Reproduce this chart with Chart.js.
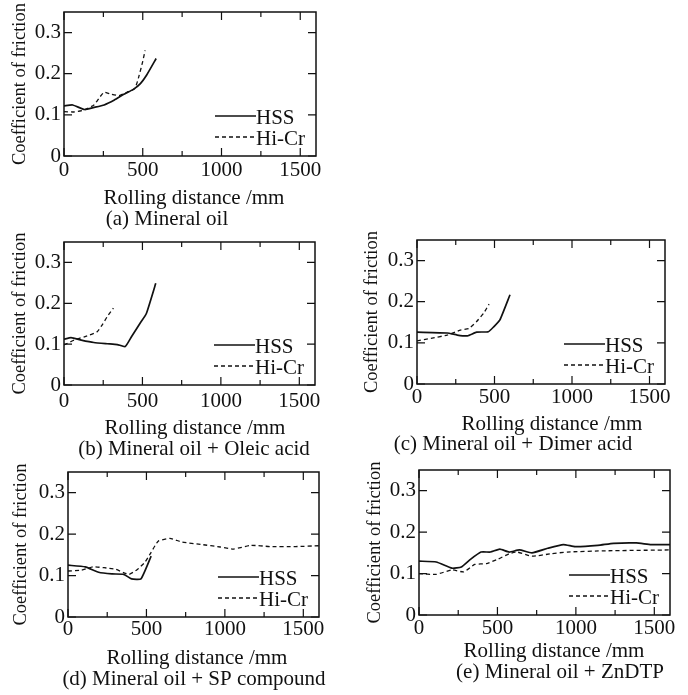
<!DOCTYPE html>
<html>
<head>
<meta charset="utf-8">
<script src="https://cdn.jsdelivr.net/npm/chart.js@4.4.0/dist/chart.umd.min.js"></script>
<style>
  body { margin: 0; background: #fff; width: 688px; height: 695px; overflow: hidden; position: relative; }
  canvas { position: absolute; }
</style>
</head>
<body>
<canvas id="a"></canvas>
<canvas id="b"></canvas>
<canvas id="c"></canvas>
<canvas id="d"></canvas>
<canvas id="e"></canvas>
<script>
// axis ticks and labels
const xTicks = [0, 250, 500, 750, 1000, 1250, 1500];
const xLabels = ['0', '500', '1000', '1500'];
const yTicks = [0, 0.05, 0.1, 0.15, 0.2, 0.25, 0.3, 0.35];
const yLabels = ['0', '0.1', '0.2', '0.3'];
const seriesNames = ['HSS', 'Hi-Cr'];
const xTitle = 'Rolling distance /mm';
const yTitle = 'Coefficient of friction';

// [rolling distance mm, coefficient of friction]
const hssA = [[0,0.122],[55,0.124],[130,0.113],[190,0.118],[255,0.124],[320,0.136],[380,0.150],[440,0.162],[485,0.176],[525,0.197],[585,0.237]];
const hicrA = [[0,0.108],[60,0.107],[130,0.112],[190,0.124],[225,0.142],[255,0.155],[300,0.150],[350,0.147],[400,0.155],[450,0.164],[475,0.193],[500,0.230],[515,0.257]];

const hssB = [[0,0.112],[45,0.116],[110,0.110],[190,0.104],[275,0.101],[340,0.099],[390,0.094],[430,0.118],[485,0.151],[525,0.175],[585,0.249]];
const hicrB = [[0,0.098],[65,0.110],[130,0.118],[210,0.130],[245,0.148],[275,0.167],[315,0.188]];

const hssC = [[0,0.126],[195,0.124],[260,0.119],[325,0.117],[385,0.126],[460,0.127],[495,0.139],[535,0.156],[600,0.217]];
const hicrC = [[0,0.105],[90,0.111],[195,0.119],[280,0.131],[335,0.135],[385,0.152],[430,0.172],[465,0.194]];

const hssD = [[0,0.125],[110,0.121],[195,0.108],[280,0.104],[355,0.103],[405,0.092],[465,0.092],[530,0.147]];
const hicrD = [[0,0.111],[85,0.113],[160,0.121],[230,0.119],[305,0.115],[355,0.107],[390,0.103],[440,0.114],[490,0.132],[525,0.153],[575,0.183],[650,0.190],[725,0.181],[850,0.175],[970,0.169],[1055,0.164],[1165,0.173],[1290,0.170],[1450,0.170],[1600,0.172]];

const hssE = [[0,0.130],[110,0.128],[210,0.113],[270,0.116],[330,0.135],[395,0.152],[455,0.152],[515,0.159],[575,0.152],[640,0.157],[720,0.150],[820,0.161],[920,0.170],[995,0.165],[1140,0.168],[1240,0.173],[1385,0.174],[1480,0.170],[1600,0.170]];
const hicrE = [[0,0.100],[110,0.098],[210,0.109],[285,0.104],[355,0.122],[430,0.124],[505,0.135],[575,0.148],[625,0.152],[720,0.142],[845,0.148],[945,0.152],[1190,0.155],[1600,0.157]];

const captions = ['(a) Mineral oil', '(b) Mineral oil + Oleic acid', '(c) Mineral oil + Dimer acid', '(d) Mineral oil + SP compound', '(e) Mineral oil + ZnDTP'];

// page layout: plot box in page pixels, where the texts go
const panels = [
  {id: 'a', hss: hssA, hicr: hicrA, col: 0,   box: [64, 12, 316, 156],  yTitleX: 20,  tickPad: 4, titleX: 194, titleDy: 48, capX: 167, capDy: 69},
  {id: 'b', hss: hssB, hicr: hicrB, col: 0,   box: [64, 242, 315, 385], yTitleX: 20,  tickPad: 6, titleX: 195, titleDy: 49, capX: 194, capDy: 70},
  {id: 'c', hss: hssC, hicr: hicrC, col: 344, box: [417, 240, 665, 384], yTitleX: 372, tickPad: 3, titleX: 552, titleDy: 46, capX: 513, capDy: 66},
  {id: 'd', hss: hssD, hicr: hicrD, col: 0,   box: [68, 472, 319, 617], yTitleX: 21,  tickPad: 2, titleX: 197, titleDy: 47, capX: 194, capDy: 68},
  {id: 'e', hss: hssE, hicr: hicrE, col: 344, box: [419, 470, 670, 615], yTitleX: 375, tickPad: 3, titleX: 554, titleDy: 42, capX: 560, capDy: 63}
];

const FONT = '"Liberation Serif", "Times New Roman", serif';
const INK = '#111';
Chart.defaults.font.family = FONT;
Chart.defaults.color = INK;

// box with inward ticks on all four sides, legend inside, captions below
const framePlugin = {
  id: 'frame',
  afterDraw(chart, args, opts) {
    const {ctx, chartArea: ca, scales} = chart;
    ctx.save();
    ctx.strokeStyle = INK;
    ctx.lineWidth = 1.5;
    ctx.strokeRect(ca.left, ca.top, ca.right - ca.left, ca.bottom - ca.top);
    ctx.lineWidth = 1.2;
    ctx.beginPath();
    scales.x.ticks.forEach(t => {
      const px = scales.x.getPixelForValue(t.value);
      const len = t.label !== '' ? 8 : 5;
      ctx.moveTo(px, ca.bottom); ctx.lineTo(px, ca.bottom - len);
      ctx.moveTo(px, ca.top); ctx.lineTo(px, ca.top + len);
    });
    scales.y.ticks.forEach(t => {
      const py = scales.y.getPixelForValue(t.value);
      const len = t.label !== '' ? 8 : 5;
      ctx.moveTo(ca.left, py); ctx.lineTo(ca.left + len, py);
      ctx.moveTo(ca.right, py); ctx.lineTo(ca.right - len, py);
    });
    ctx.stroke();

    // legend
    ctx.font = '21px ' + FONT;
    ctx.fillStyle = INK;
    ctx.textBaseline = 'middle';
    ctx.textAlign = 'left';
    const rows = [40, 19];
    chart.data.datasets.forEach((ds, i) => {
      const y = ca.bottom - rows[i];
      ctx.beginPath();
      ctx.lineWidth = ds.borderWidth;
      ctx.setLineDash(ds.borderDash || []);
      ctx.moveTo(ca.right - 101, y);
      ctx.lineTo(ca.right - 60, y);
      ctx.stroke();
      ctx.setLineDash([]);
      ctx.fillText(ds.label, ca.right - 60, y + 2.5);
    });

    // axis title and caption
    ctx.textBaseline = 'alphabetic';
    ctx.textAlign = 'center';
    ctx.fillText(xTitle, opts.titleX, ca.bottom + opts.titleDy);
    ctx.fillText(opts.caption, opts.capX, ca.bottom + opts.capDy);
    ctx.restore();
  }
};

const pts = arr => arr.map(p => ({x: p[0], y: p[1]}));

panels.forEach((p, k) => {
  const [bl, bt, br, bb] = p.box;
  const top = bt - 20;
  const cw = 344, ch = bb - top + 80;
  const xh = 30;
  const cv = document.getElementById(p.id);
  cv.width = cw; cv.height = ch;
  cv.style.left = p.col + 'px';
  cv.style.top = top + 'px';

  new Chart(cv.getContext('2d'), {
    type: 'line',
    data: {
      datasets: [
        {label: seriesNames[0], data: pts(p.hss), borderColor: INK, borderWidth: 1.7, pointRadius: 0, tension: 0.15, fill: false},
        {label: seriesNames[1], data: pts(p.hicr), borderColor: INK, borderWidth: 1.3, borderDash: [4, 3], pointRadius: 0, tension: 0.15, fill: false}
      ]
    },
    options: {
      responsive: false,
      animation: false,
      events: [],
      layout: {padding: {left: 0, top: 20, right: cw - (br - p.col), bottom: ch - (bb - top) - xh}},
      scales: {
        x: {
          type: 'linear', min: 0, max: 1600,
          afterBuildTicks: s => { s.ticks = xTicks.map(v => ({value: v})); },
          afterFit: s => { s.height = xh; },
          grid: {display: false, drawTicks: false, tickLength: 0},
          border: {display: false},
          ticks: {
            autoSkip: false, maxRotation: 0, minRotation: 0, padding: p.tickPad,
            font: {size: 21, lineHeight: 1}, color: INK,
            callback: v => xLabels.includes(String(v)) ? String(v) : ''
          }
        },
        y: {
          type: 'linear', min: 0, max: 0.35,
          afterBuildTicks: s => { s.ticks = yTicks.map(v => ({value: v})); },
          afterFit: s => { s.width = bl - p.col; },
          grid: {display: false, drawTicks: false, tickLength: 0},
          border: {display: false},
          ticks: {
            padding: 3, font: {size: 21, lineHeight: 1}, color: INK,
            callback: v => { const s = String(Math.round(v * 100) / 100); return yLabels.includes(s) ? s : ''; }
          },
          title: {
            display: true, text: yTitle, color: INK,
            font: {size: 18.5, lineHeight: 1.2},
            padding: {top: (p.yTitleX - p.col) - 11.1, bottom: 0}
          }
        }
      },
      plugins: {
        legend: {display: false},
        tooltip: {enabled: false},
        frame: {titleX: p.titleX - p.col, titleDy: p.titleDy, capX: p.capX - p.col, capDy: p.capDy, caption: captions[k]}
      }
    },
    plugins: [framePlugin]
  });
});
</script>
</body>
</html>
